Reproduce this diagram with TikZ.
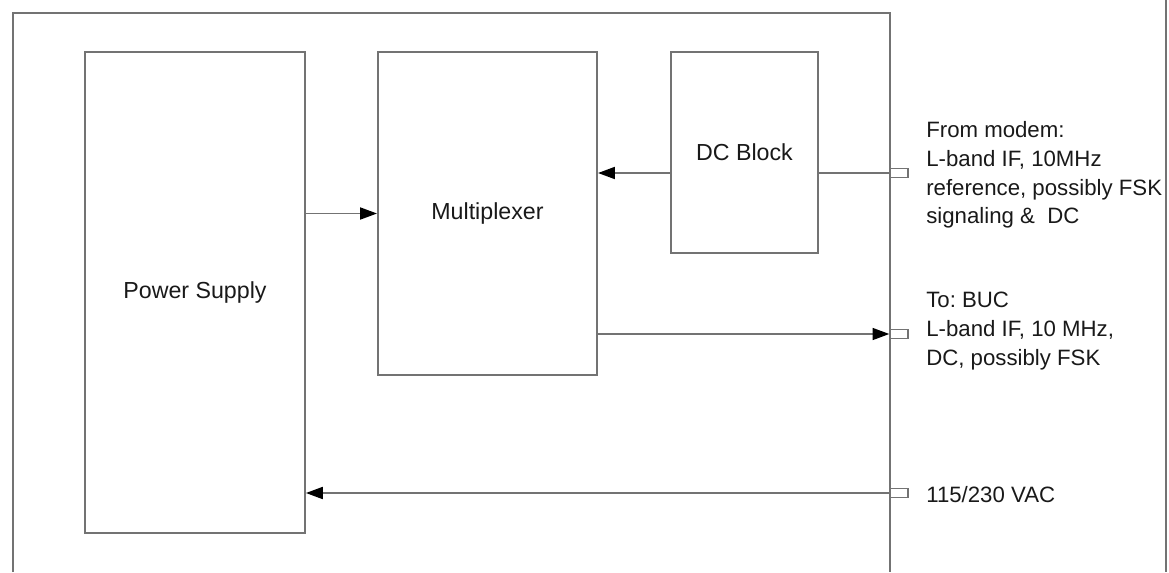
\documentclass[tikz,border=0pt]{standalone}
\usepackage{fontspec}
\setmainfont{Liberation Sans}
\usepackage{tikz}
\usetikzlibrary{arrows.meta,positioning,calc}
\frenchspacing
\tikzset{
  unit/.style={rectangle, draw=black!55, line width=1.3pt, fill=white, align=center,
               font=\fontsize{16.5}{20.5}\selectfont, text=black!90},
  jack/.style={rectangle, draw=black!55, line width=1pt, fill=white,
               minimum width=0.45cm, minimum height=0.22cm, inner sep=0pt},
  arr/.style={-{Triangle[length=4.2mm, width=3mm, color=black]}, line width=1.2pt, black!55},
  wire/.style={line width=1.2pt, black!55},
  lbl/.style={anchor=west, align=left, inner sep=0pt,
              font=\fontsize{15.8}{20.5}\selectfont, text=black!90},
}

\begin{document}
\begin{tikzpicture}[x=0.025cm, y=-0.025cm]
\useasboundingbox (0,0) rectangle (1169,572);
% frame
\draw[line width=1.5pt, black!55] (13,572) -- (13,13) -- (890,13) -- (890,572);
\draw[line width=1.5pt, black!55] (1166,0) -- (1166,572);
% blocks
\node[unit, minimum width=5.5cm, minimum height=12.03cm] (psu) at (195,292.5) {Power Supply};
\node[unit, minimum width=5.48cm, minimum height=8.08cm] (mux) at (487.5,213.5) {Multiplexer};
\node[unit, minimum width=3.68cm, minimum height=5.03cm] (dcb) at (744.5,152.5) {DC Block};
% connectors on the frame
\node[jack] (jmodem) at (899,173) {};
\node[jack] (jbuc) at (899,334) {};
\node[jack] (jac) at (899,493) {};
% labels
\node[lbl] (tmodem) at (926,175) {From modem:\\L-band IF, 10MHz\\reference, possibly FSK\\signaling \&\ \ DC};
\node[lbl] (tbuc) at (926,331) {To: BUC\\L-band IF, 10 MHz,\\DC, possibly FSK};
\node[lbl] (tac) at (926,495) {115/230 VAC};
% signal paths
\draw[arr] (psu.east |- mux.west) -- (mux.west);
\draw[wire] (jmodem.west) -- (dcb.east |- jmodem);
\draw[arr] (dcb.west |- jmodem) -- (mux.east |- jmodem);
\draw[arr] (mux.east |- jbuc) -- (jbuc.west);
\draw[arr] (jac.west) -- (psu.east |- jac);
\end{tikzpicture}
\end{document}
